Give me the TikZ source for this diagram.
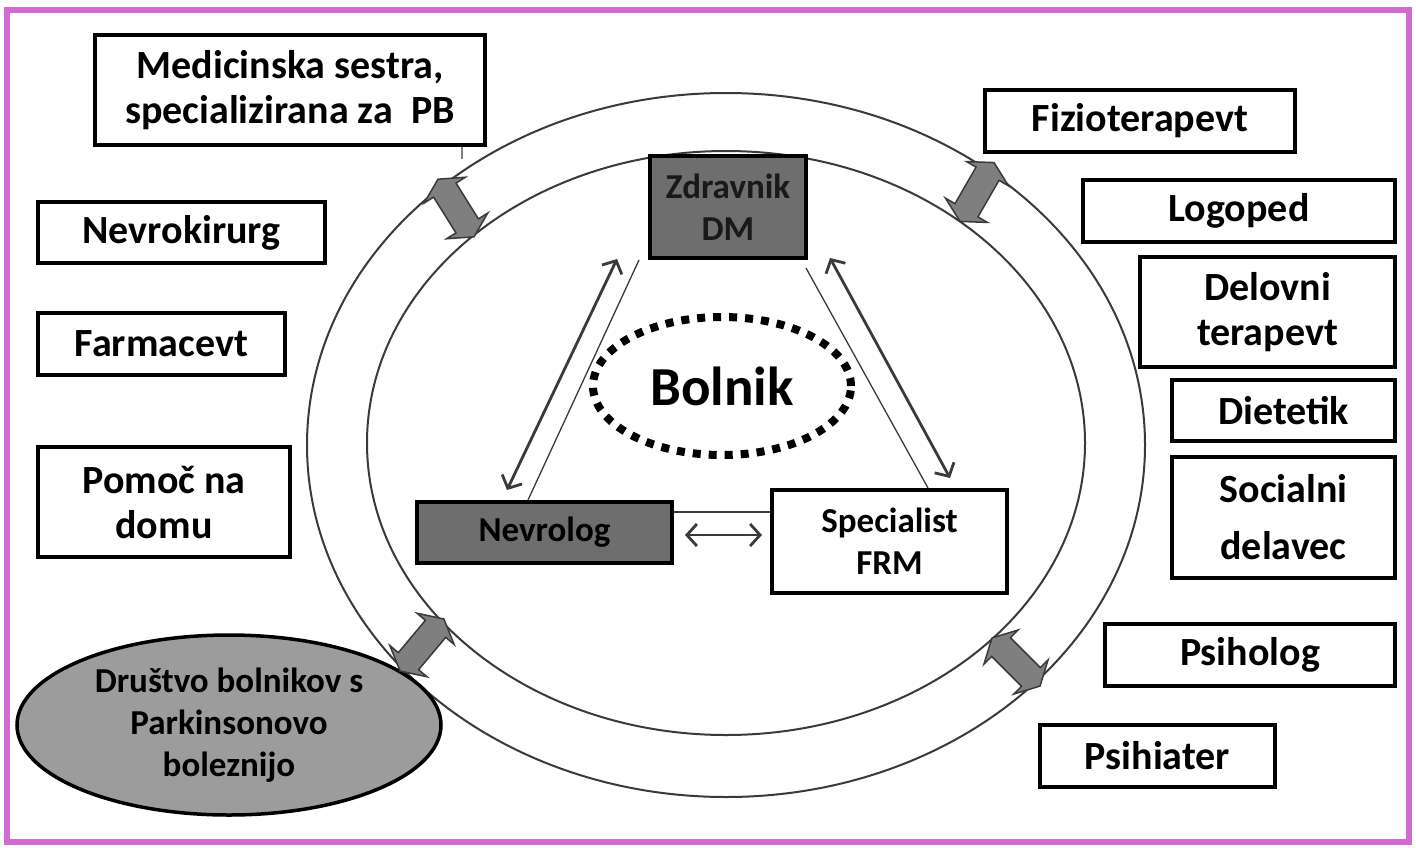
\documentclass[tikz,border=0pt]{standalone}
\usepackage{fontspec}
\setmainfont{Carlito}
\usetikzlibrary{shapes.geometric,shapes.arrows,arrows.meta,calc}
\definecolor{frame}{HTML}{CF6BD3}
\definecolor{darkbox}{HTML}{6E6E6E}
\definecolor{assoc}{HTML}{9C9C9C}
\definecolor{fatc}{HTML}{7F7F7F}
\definecolor{ringc}{HTML}{3A3A3A}
\newcommand\fsSide{\fontsize{40}{45}\selectfont\bfseries}
\newcommand\fsMid{\fontsize{35}{42}\selectfont\bfseries}
\newcommand\fsBig{\fontsize{55}{60}\selectfont\bfseries}
\tikzset{
  sidebox/.style={draw=black, line width=4pt, fill=white, font=\fsSide, align=center, inner sep=0pt},
  midbox/.style={draw=black, line width=4pt, font=\fsMid, align=center, inner sep=0pt},
  ring/.style={ellipse, draw=ringc, line width=2pt, inner sep=0pt},
  fat/.style={double arrow, draw=ringc, line width=1.5pt, fill=fatc, inner xsep=0pt, inner ysep=12.5pt,
    minimum height=68pt, double arrow head extend=11pt, double arrow tip angle=124},
  twoway/.style={draw=ringc, line width=2.8pt, {Straight Barb[length=10pt,width=22pt]}-{Straight Barb[length=10pt,width=22pt]}},
  thin/.style={draw=ringc, line width=1.3pt},
}
\begin{document}
\begin{tikzpicture}[x=1pt,y=-1pt]
\useasboundingbox (0,0) rectangle (1416,847);
\draw[frame, line width=6pt] (7,10) rectangle (1409,842);

% rings
\node[ring, minimum width=838pt, minimum height=704pt] (outer) at (726,445) {};
\node[ring, minimum width=718pt, minimum height=584pt] (inner) at (726,443) {};

% left column
\node[sidebox, minimum width=390pt, minimum height=110pt] (med) at (290,90) {Medicinska sestra,\\specializirana za \ PB};
\coordinate (tick) at (462,159);
\draw[thin, gray] (med.south -| tick) -- (tick);
\node[sidebox, minimum width=287pt, minimum height=61pt] (nevk) at (181.5,232.5) {Nevrokirurg};
\node[sidebox, minimum width=247pt, minimum height=62pt] (farm) at (161.5,344) {Farmacevt};
\node[sidebox, minimum width=252pt, minimum height=110pt] (pom) at (164,502) {Pomoč na\\domu};
\node[ellipse, draw=black, line width=3.5pt, fill=assoc, font=\fsMid, align=center, inner sep=0pt,
  minimum width=424pt, minimum height=180pt] (drus) at (229,725) {Društvo bolnikov s\\Parkinsonovo\\boleznijo};

% right column
\node[sidebox, minimum width=310pt, minimum height=62pt] (fiz) at (1140,121) {Fizioterapevt};
\node[sidebox, minimum width=312pt, minimum height=62pt] (log) at (1239,211) {Logoped};
\node[sidebox, minimum width=255pt, minimum height=110pt] (del) at (1267.5,312) {Delovni\\terapevt};
\node[sidebox, minimum width=223pt, minimum height=61pt] (die) at (1283.5,410.5) {Dietetik};
\node[sidebox, minimum width=223pt, minimum height=121pt] (soc) at (1283.5,517.5) {Socialni\\[12pt]delavec};
\node[sidebox, minimum width=290pt, minimum height=62pt] (psl) at (1250,655) {Psiholog};
\node[sidebox, minimum width=235pt, minimum height=62pt] (psi) at (1157.5,756) {Psihiater};

% centre
\node[midbox, fill=darkbox, text=black!90, minimum width=156pt, minimum height=102pt] (zdr) at (728,207) {Zdravnik\\DM};
\node[midbox, fill=darkbox, minimum width=255pt, minimum height=61pt] (nev) at (544.5,532.5) {Nevrolog};
\node[midbox, fill=white, minimum width=235pt, minimum height=103pt] (spe) at (889.5,541.5) {Specialist\\FRM};
\node[ellipse, draw=black, line width=8pt, dash pattern=on 8pt off 8pt, font=\fsBig, inner sep=0pt,
  minimum width=258pt, minimum height=138pt] (bol) at (722,386) {Bolnik};

% connectors centre
\coordinate (a1) at (617,259); \coordinate (a2) at (507,490);
\coordinate (b1) at (639,258); \coordinate (b2) at (528,490);
\draw[twoway] (a1) -- (a2);
\draw[thin] (zdr.south west -| b1) -- (nev.north -| b2);
\coordinate (c1) at (830,258); \coordinate (c2) at (950,478);
\coordinate (d1) at (806,268); \coordinate (d2) at (928,490);
\draw[twoway] (c1) -- (c2);
\draw[thin] (d1) -- (spe.north -| d2);
\coordinate (e1) at (685,535); \coordinate (e2) at (762,535);
\coordinate (f) at (0,512);
\draw[thin] (nev.east |- f) -- (spe.west |- f);
\draw[twoway] (e1) -- (e2);

% fat double arrows on ring
\node[fat, rotate=122] (fa1) at (456,208) {};
\node[fat, rotate=60] (fa2) at (977,192) {};
\node[fat, rotate=50] (fa3) at (422,645) {};
\node[fat, rotate=135] (fa4) at (1016,662) {};
\end{tikzpicture}
\end{document}
